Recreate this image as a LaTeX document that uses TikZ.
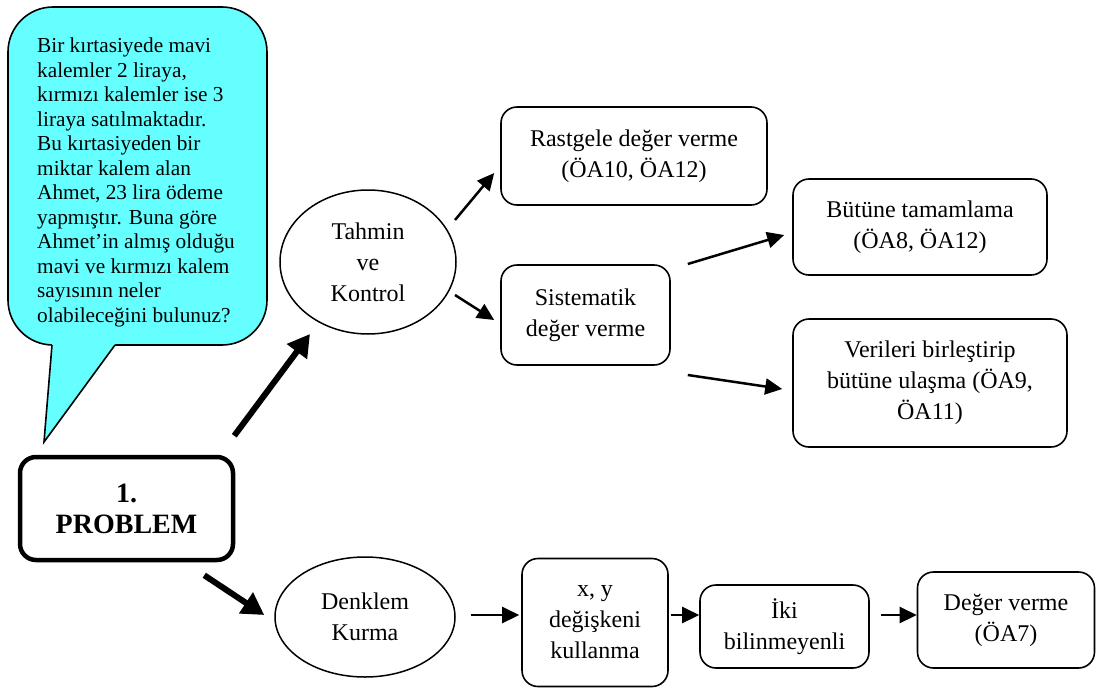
\documentclass[tikz,border=0pt]{standalone}
\usepackage{fontspec}
\setmainfont{Liberation Serif}
\usetikzlibrary{arrows.meta,calc,shapes.geometric}
\definecolor{callcyan}{RGB}{102,255,255}
\begin{document}
\begin{tikzpicture}[x=1pt,y=-1pt,
  box/.style={draw, line width=1.6pt, rounded corners=16pt, align=center,
    font=\fontsize{24}{31}\selectfont, inner sep=0pt},
  oval/.style={draw, ellipse, line width=1.5pt, align=center,
    font=\fontsize{24}{31}\selectfont, inner sep=0pt},
  arr/.style={line width=2.5pt, -{Triangle[length=17pt,width=16pt]}},
  bigarr/.style={line width=6pt, -{Triangle[length=22pt,width=24pt]}}]
\useasboundingbox (0,0) rectangle (1097,688);

% callout
\filldraw[fill=callcyan, draw=black, line width=1.6pt, rounded corners=45pt] (8,7) rectangle (267,345);
\fill[callcyan] (52,338) -- (52,345) -- (44,442) -- (115,345) -- (115,338) -- cycle;
\draw[line width=1.6pt, line join=miter] (52,345) -- (44,442) -- (115,345);
\node[anchor=north west, inner sep=0pt, align=left, font=\fontsize{21.3}{24.5}\selectfont] (q) at (37,38)
 {Bir kırtasiyede mavi\\kalemler 2 liraya,\\kırmızı kalemler ise 3\\liraya satılmaktadır.\\Bu kırtasiyeden bir\\miktar kalem alan\\Ahmet, 23 lira ödeme\\yapmıştır. Buna göre\\Ahmet’in almış olduğu\\mavi ve kırmızı kalem\\sayısının neler\\olabileceğini bulunuz?};

% nodes
\node[box, line width=4.5pt, minimum width=213pt, minimum height=103pt,
  font=\bfseries\fontsize{28}{31}\selectfont] (prob) at (126.5,508.5) {1.\\PROBLEM};
\node[oval, minimum width=176pt, minimum height=144pt] (tk) at (368,262) {Tahmin\\ve\\Kontrol};
\node[oval, minimum width=180pt, minimum height=120pt] (dk) at (365,617) {Denklem\\Kurma};
\node[box, minimum width=266pt, minimum height=98pt] (rg) at (634,156) {Rastgele değer verme\\(ÖA10, ÖA12)};
\node[box, minimum width=169pt, minimum height=100pt] (sis) at (585.5,315) {Sistematik\\değer verme};
\node[box, minimum width=254pt, minimum height=96pt] (bt) at (920,227) {Bütüne tamamlama\\(ÖA8, ÖA12)};
\node[box, minimum width=274pt, minimum height=128pt] (vb) at (930,383) {Verileri birleştirip\\bütüne ulaşma (ÖA9,\\ÖA11)};
\node[box, minimum width=146pt, minimum height=128pt] (xy) at (595,622.5) {x, y\\değişkeni\\kullanma};
\node[box, minimum width=169pt, minimum height=83pt] (iki) at (784.5,626.5) {İki\\bilinmeyenli};
\node[box, minimum width=177pt, minimum height=96pt] (dv) at (1006,620) {Değer verme\\(ÖA7)};

% connectors
\draw[bigarr] ($(prob.north east)+(-1,-19)$) -- ($(tk.center)+(-58,72)$);
\draw[bigarr] ($(prob.south east)+(-31,13)$) -- ($(dk.west)+(-10,-2)$);
\draw[arr] ($(tk.center)+(87,-42)$) -- ($(rg.west)+(-6,17)$);
\draw[arr] ($(tk.center)+(87,33)$) -- ($(sis.west)+(-6,5)$);
\draw[arr] ($(sis.east)+(17,-51)$) -- ($(bt.west)+(-8,8)$);
\draw[arr] ($(sis.east)+(17,60)$) -- ($(vb.west)+(-10,6)$);
\draw[arr] ($(dk.east)+(15,-2)$) -- ($(xy.west)+(-2,-7.5)$);
\draw[arr] ($(xy.east)+(2,-7.5)$) -- ($(iki.west)+(0,-11.5)$);
\draw[arr] ($(iki.east)+(11,-11.5)$) -- ($(dv.west)+(0,-5)$);
\end{tikzpicture}
\end{document}
